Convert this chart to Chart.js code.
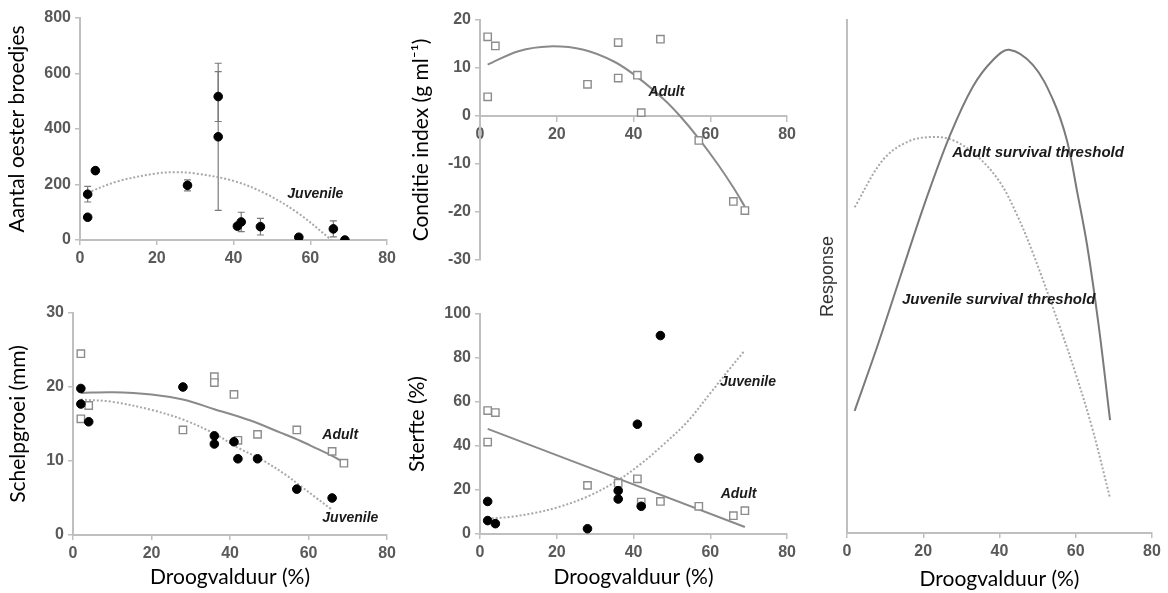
<!DOCTYPE html>
<html><head><meta charset="utf-8">
<script src="https://cdn.jsdelivr.net/npm/chart.js@4.4.1/dist/chart.umd.min.js"></script>
<style>
html,body{margin:0;padding:0;background:#fff;}
#wrap{position:relative;width:1168px;height:593px;overflow:hidden;background:#fff;}
canvas{position:absolute;}
</style></head><body>
<div id="wrap">
<canvas id="c1" width="400" height="290" style="left:0;top:0"></canvas>
<canvas id="c2" width="400" height="290" style="left:400px;top:0"></canvas>
<canvas id="c3" width="400" height="303" style="left:0;top:290px"></canvas>
<canvas id="c4" width="400" height="303" style="left:400px;top:290px"></canvas>
<canvas id="c5" width="368" height="593" style="left:800px;top:0"></canvas>
</div>
<script>
// ---------- DATA ----------
const xTicks = [0, 20, 40, 60, 80];

// Panel 1: Aantal oester broedjes (juvenile)
const broedX   = [2, 2, 4, 28, 36, 36, 41, 42, 47, 57, 66, 69];
const broedY   = [165, 82, 250, 197, 517, 372, 50, 65, 48, 10, 40, 0];
const broedErr = [28, 0, 0, 20, 90, 265, 0, 35, 30, 0, 29, 0];
const broedFitX = [2, 10, 20, 25, 30, 40, 48.5, 57, 65.5];
const broedFitY = [171, 212, 240, 244, 240, 213, 166, 95, 0];

// Panel 2: Conditie index (adult)
const condX = [2, 4, 2, 28, 36, 36, 41, 42, 47, 57, 66, 69];
const condY = [16.5, 14.6, 4, 6.6, 15.3, 7.9, 8.5, 0.7, 16.0, -5.1, -17.8, -19.7];
const condFitX = [2, 10, 18, 27, 35, 41, 48, 52, 57, 62, 66, 69];
const condFitY = [10.7, 13.5, 14.5, 13.8, 11.3, 8.1, 3.4, 0.1, -4.7, -10.1, -14.9, -18.9];

// Panel 3: Schelpgroei
const growJuvX = [2, 2, 4, 28, 36, 36, 41, 42, 47, 57, 66];
const growJuvY = [19.8, 17.7, 15.3, 20.0, 13.4, 12.3, 12.6, 10.3, 10.3, 6.2, 5.0];
const growAdX  = [2, 2, 4, 28, 36, 36, 41, 42, 47, 57, 66, 69];
const growAdY  = [24.5, 15.7, 17.5, 14.2, 21.4, 20.6, 19.0, 12.8, 13.6, 14.2, 11.3, 9.7];
const growAdFitX  = [2, 10, 20, 28, 36, 45, 53, 58, 62, 66, 69];
const growAdFitY  = [19.2, 19.3, 19.0, 18.3, 17.0, 15.5, 13.8, 12.7, 11.7, 10.7, 9.8];
const growJuvFitX = [2, 10, 20, 28, 36, 42, 48, 54, 58, 62, 66];
const growJuvFitY = [18.3, 18.0, 16.9, 15.6, 13.7, 11.8, 10.2, 8.2, 6.6, 5.0, 3.4];

// Panel 4: Sterfte
const mortAdX  = [2, 4, 2, 28, 36, 41, 42, 47, 57, 66, 69];
const mortAdY  = [56.1, 55.2, 41.8, 22.1, 23.1, 25.1, 14.5, 14.8, 12.6, 8.3, 10.6];
const mortJuvX = [2, 2, 4, 28, 36, 36, 41, 42, 47, 57];
const mortJuvY = [14.8, 6.1, 4.7, 2.4, 19.7, 15.9, 49.9, 12.6, 90.2, 34.5];
const mortAdFitX  = [2, 69];
const mortAdFitY  = [47.8, 3.2];
const mortJuvFitX = [2, 8, 14, 20, 28, 36, 42, 48, 54, 60, 65, 69];
const mortJuvFitY = [7, 7.8, 9.5, 12, 17, 24.5, 32, 41, 51, 64, 75, 83.5];

// Panel 5: Response (conceptual)
const respAdX  = [2, 8, 14, 20.5, 27, 33, 38.3, 42.5, 48.8, 54, 57.7, 60.5, 63, 66, 69];
const respAdY  = [23.8, 36.5, 50, 64.5, 77.5, 87, 92.2, 94.2, 91.2, 84.5, 76.5, 66, 56, 40.5, 22];
const respJuvX = [2, 9.4, 16, 22.6, 28, 34.1, 40, 44.6, 48.8, 55.9, 60, 64.3, 69];
const respJuvY = [63.5, 72.7, 76.3, 77.2, 76.5, 73.5, 68.5, 62, 54.5, 40, 31, 20.5, 6.8];

// ---------- STYLE ----------
const AXIS_C = '#bfbfbf';
const TICK_C = '#595959';
const TICK_FONT  = {family: '"Liberation Sans", Arial, sans-serif', size: 16, weight: 'bold'};
const TITLE_FONT = {family: 'Lato, "Open Sans", sans-serif', size: 21};
const LABEL_FONT = 'italic bold 14px "Liberation Sans", Arial, sans-serif';
const SOLID_C = '#8a8a8a';
const DOT_C = '#a8a8a8';

const pts = (xs, ys) => xs.map((x, i) => ({x: x, y: ys[i]}));

function circles(xs, ys) {
  return {data: pts(xs, ys), showLine: false, pointStyle: 'circle', pointRadius: 4.3,
          backgroundColor: '#000', borderColor: '#000', borderWidth: 1};
}
function squares(xs, ys) {
  return {data: pts(xs, ys), showLine: false, pointStyle: 'rect', pointRadius: 5.2,
          backgroundColor: '#fff', borderColor: '#8c8c8c', borderWidth: 1.4};
}
function solid(xs, ys, c) {
  return {data: pts(xs, ys), showLine: true, pointRadius: 0, borderColor: c || SOLID_C,
          borderWidth: 2, tension: 0.35, fill: false};
}
function dotted(xs, ys) {
  return {data: pts(xs, ys), showLine: true, pointRadius: 0, borderColor: DOT_C,
          borderWidth: 2, borderDash: [2, 2], tension: 0.35, fill: false};
}

function xAxis(height, title, titlePadBottom, extra) {
  return Object.assign({
    type: 'linear', min: 0, max: 80,
    afterBuildTicks: s => { s.ticks = xTicks.map(v => ({value: v})); },
    ticks: {color: TICK_C, font: TICK_FONT, padding: 4, maxRotation: 0, autoSkip: false},
    grid: {display: true, drawOnChartArea: false, drawTicks: true, tickLength: 5, color: AXIS_C, lineWidth: 1.5},
    border: {display: true, color: AXIS_C, width: 2},
    title: title ? {display: true, text: title, color: '#000', font: TITLE_FONT, padding: {top: 0, bottom: titlePadBottom}} : {display: false},
    afterFit: s => { s.height = height; }
  }, extra || {});
}
function yAxis(width, min, max, step, title, titlePadTop, extra) {
  return Object.assign({
    type: 'linear', min: min, max: max,
    ticks: {stepSize: step, color: TICK_C, font: TICK_FONT, padding: 4},
    grid: {display: true, drawOnChartArea: false, drawTicks: true, tickLength: 5, color: AXIS_C, lineWidth: 1.5},
    border: {display: true, color: AXIS_C, width: 2},
    title: {display: true, text: title, color: '#000', font: TITLE_FONT, padding: {top: titlePadTop, bottom: 0}},
    afterFit: s => { s.width = width; }
  }, extra || {});
}

function textPlugin(labels) {
  return {
    id: 'txt',
    afterDatasetsDraw(chart) {
      const ctx = chart.ctx, xs = chart.scales.x, ys = chart.scales.y;
      ctx.save();
      ctx.fillStyle = '#1a1a1a';
      ctx.textAlign = 'left';
      ctx.textBaseline = 'middle';
      labels.forEach(l => {
        ctx.font = l.font || LABEL_FONT;
        ctx.fillText(l.text, xs.getPixelForValue(l.x), ys.getPixelForValue(l.y));
      });
      ctx.restore();
    }
  };
}

function errPlugin(xs0, ys0, errs) {
  return {
    id: 'err',
    beforeDatasetsDraw(chart) {
      const ctx = chart.ctx, xs = chart.scales.x, ys = chart.scales.y;
      ctx.save();
      ctx.strokeStyle = '#7a7a7a';
      ctx.lineWidth = 1.2;
      xs0.forEach((x, i) => {
        if (!errs[i]) return;
        const px = xs.getPixelForValue(x);
        const t = ys.getPixelForValue(ys0[i] + errs[i]);
        const b = ys.getPixelForValue(Math.max(ys0[i] - errs[i], ys.min));
        ctx.beginPath();
        ctx.moveTo(px, t); ctx.lineTo(px, b);
        ctx.moveTo(px - 3.5, t); ctx.lineTo(px + 3.5, t);
        ctx.moveTo(px - 3.5, b); ctx.lineTo(px + 3.5, b);
        ctx.stroke();
      });
      ctx.restore();
    }
  };
}

const baseOpts = (padding, scales) => ({
  responsive: false, animation: false, devicePixelRatio: 1, events: [],
  layout: {padding: padding},
  plugins: {legend: {display: false}, tooltip: {enabled: false}},
  scales: scales
});

// Panel 1
new Chart(document.getElementById('c1'), {
  type: 'scatter',
  data: {datasets: [circles(broedX, broedY), dotted(broedFitX, broedFitY)]},
  options: baseOpts({top: 18, right: 12, left: 0, bottom: 0}, {
    x: xAxis(50, null, 0),
    y: yAxis(80, 0, 800, 200, 'Aantal oester broedjes', 5)
  }),
  plugins: [errPlugin(broedX, broedY, broedErr), textPlugin([{text: 'Juvenile', x: 54, y: 166}])]
});

// Panel 2
new Chart(document.getElementById('c2'), {
  type: 'scatter',
  data: {datasets: [squares(condX, condY), solid(condFitX, condFitY)]},
  options: baseOpts({top: 20, right: 10, left: 0, bottom: 30}, {
    x: xAxis(0, null, 0, {position: {y: 0}}),
    y: yAxis(80, -30, 20, 10, 'Conditie index (g ml\u207B\u00B9)', 9)
  }),
  plugins: [textPlugin([{text: 'Adult', x: 43.9, y: 5.0}])]
});

// Panel 3
new Chart(document.getElementById('c3'), {
  type: 'scatter',
  data: {datasets: [circles(growJuvX, growJuvY), squares(growAdX, growAdY),
                    solid(growAdFitX, growAdFitY), dotted(growJuvFitX, growJuvFitY)]},
  options: baseOpts({top: 23, right: 12, left: 0, bottom: 0}, {
    x: xAxis(58, 'Droogvalduur (%)', 3),
    y: yAxis(73, 0, 30, 10, 'Schelpgroei (mm)', 6)
  }),
  plugins: [textPlugin([{text: 'Adult', x: 63.5, y: 13.5}, {text: 'Juvenile', x: 63.5, y: 2.3}])]
});

// Panel 4
new Chart(document.getElementById('c4'), {
  type: 'scatter',
  data: {datasets: [circles(mortJuvX, mortJuvY), squares(mortAdX, mortAdY),
                    solid(mortAdFitX, mortAdFitY), dotted(mortJuvFitX, mortJuvFitY)]},
  options: baseOpts({top: 24, right: 10, left: 0, bottom: 0}, {
    x: xAxis(59, 'Droogvalduur (%)', 3),
    y: yAxis(80, 0, 100, 20, 'Sterfte (%)', 5)
  }),
  plugins: [textPlugin([{text: 'Juvenile', x: 62.5, y: 68.8}, {text: 'Adult', x: 62.7, y: 18.2}])]
});

// Panel 5
new Chart(document.getElementById('c5'), {
  type: 'scatter',
  data: {datasets: [solid(respAdX, respAdY, '#7a7a7a'), dotted(respJuvX, respJuvY)]},
  options: baseOpts({top: 20, right: 16, left: 0, bottom: 0}, {
    x: xAxis(60, 'Droogvalduur (%)', 1),
    y: yAxis(47, 0, 100, 20, 'Response', 17, {
      ticks: {display: false},
      grid: {display: false},
      title: {display: true, text: 'Response', color: '#333',
              font: {family: '"Liberation Sans", Arial, sans-serif', size: 18}, padding: {top: 17, bottom: 0}}
    })
  }),
  plugins: [textPlugin([
    {text: 'Adult survival threshold', x: 27.6, y: 74.1, font: 'italic bold 15px "Liberation Sans", Arial, sans-serif'},
    {text: 'Juvenile survival threshold', x: 14.4, y: 45.4, font: 'italic bold 15px "Liberation Sans", Arial, sans-serif'}
  ])]
});
</script>
</body></html>
